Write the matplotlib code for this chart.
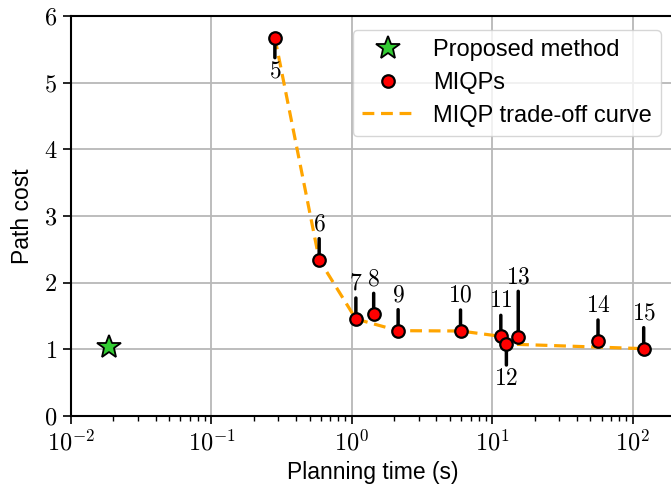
import matplotlib
matplotlib.use("Agg")
import matplotlib.pyplot as plt
from matplotlib.ticker import FuncFormatter, LogLocator
import numpy as np

plt.rcParams['font.family'] = ['Liberation Sans', 'DejaVu Sans']
plt.rcParams['mathtext.fontset'] = 'cm'

# proposed method
prop_time = [0.0186]
prop_cost = [1.04]

# MIQP runs (label = horizon)
miqp_label = [5, 6, 7, 8, 9, 10, 11, 12, 13, 14, 15]
miqp_time = [0.283, 0.585, 1.068, 1.43, 2.135, 5.94, 11.5, 12.6, 15.3, 56.6, 119.7]
miqp_cost = [5.675, 2.345, 1.455, 1.525, 1.28, 1.275, 1.195, 1.08, 1.18, 1.125, 1.01]

# trade-off curve (pareto front)
curve_label = [5, 6, 7, 9, 10, 11, 12, 15]

# stem length / label offset in pixels (negative = below)
stem_px = {5: -20, 12: -21, 13: 46}

fig = plt.figure(figsize=(6.71, 4.87), dpi=100)
ax = fig.add_axes([71 / 671, 71 / 487, 604 / 671, 400 / 487])

ax.grid(True, which='major', color='#b8b8b8', linewidth=1.3, zorder=0)
ax.set_axisbelow(True)

idx = [miqp_label.index(k) for k in curve_label]
ax.plot([miqp_time[i] for i in idx], [miqp_cost[i] for i in idx],
        color='orange', lw=2.3, ls=(0, (3.7, 2.1)), zorder=2,
        label='MIQP trade-off curve')

for t, c, k in zip(miqp_time, miqp_cost, miqp_label):
    s = stem_px.get(k, 21)
    sign = 1 if s > 0 else -1
    ax.annotate('', xy=(t, c), xytext=(0, s), textcoords='offset pixels',
                arrowprops=dict(arrowstyle='-', lw=2.5, color='black',
                                shrinkA=0, shrinkB=0), zorder=3)
    ax.annotate('$%d$' % k, xy=(t, c), xytext=(0, s + sign * 14),
                textcoords='offset pixels', ha='center', va='center',
                fontsize=17, zorder=5)

ax.plot(miqp_time, miqp_cost, 'o', color='red', mec='black', mew=1.6,
        ms=9, zorder=4, label='MIQPs')
ax.plot(prop_time, prop_cost, '*', color='#33cc33', mec='black', mew=1.3,
        ms=18, zorder=4, label='Proposed method')

ax.set_xscale('log')
ax.set_xlim(0.01, 200)
ax.set_ylim(0, 6)
ax.xaxis.set_major_locator(LogLocator(base=10, numticks=10))
ax.xaxis.set_major_formatter(FuncFormatter(lambda v, p: '$10^{%d}$' % round(np.log10(v))))
ax.yaxis.set_major_formatter(FuncFormatter(lambda v, p: '$%d$' % v))
ax.tick_params(axis='both', which='major', labelsize=17.5, length=6, width=1.2, pad=4)
ax.tick_params(axis='x', which='minor', length=3.5, width=1)
for sp in ax.spines.values():
    sp.set_linewidth(1.5)

ax.set_xlabel('Planning time (s)', fontsize=16.5, labelpad=4)
ax.set_ylabel('Path cost', fontsize=16.5, labelpad=7)

h, l = ax.get_legend_handles_labels()
order = [2, 1, 0]
ax.legend([h[i] for i in order], [l[i] for i in order], loc='upper right',
          bbox_to_anchor=((661 - 71) / 604, (416 - 30) / 400), borderaxespad=0,
          fontsize=17, handlelength=2.2, labelspacing=0.45, borderpad=0.4)

fig.savefig('out.png', dpi=100)
